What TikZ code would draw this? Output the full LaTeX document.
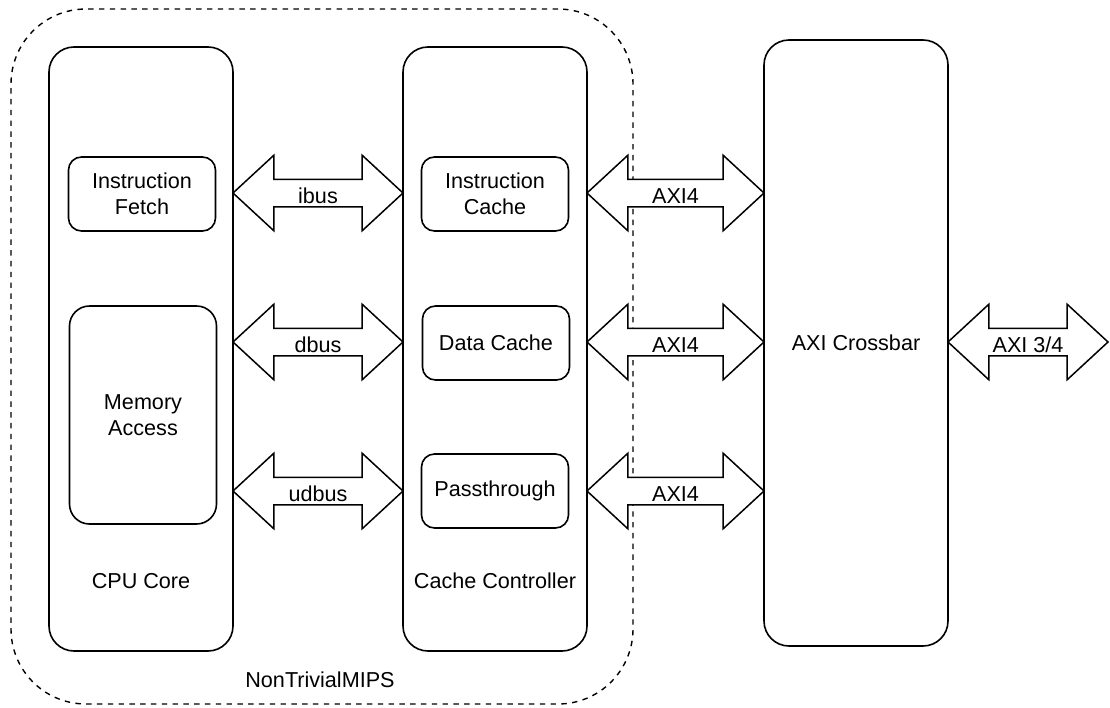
\documentclass[tikz,border=0pt]{standalone}
\usepackage{fontspec}
\setmainfont{Liberation Sans}
\usepackage{tikz}
\usetikzlibrary{shapes,positioning}
\tikzset{blk/.style={rectangle,draw,line width=1.6pt,rounded corners=25pt,minimum width=184pt,minimum height=604pt,inner sep=0pt}}
\tikzset{unit/.style={rectangle,draw,line width=1.6pt,rounded corners=13pt,minimum width=147pt,minimum height=74pt,inner sep=0pt,align=center}}
\tikzset{bus/.style={double arrow,draw,fill=white,line width=1.5pt,double arrow head extend=24pt,double arrow tip angle=85.5,minimum width=74pt,inner xsep=0pt,inner ysep=3pt,text height=20pt,text depth=0pt}}

\begin{document}
\begin{tikzpicture}[x=1pt,y=-1pt,font=\fontsize{21.6}{26}\selectfont]
        \useasboundingbox (0,0) rectangle (1110,707);
        \node[rectangle,draw,line width=1.4pt,dash pattern=on 5.4pt off 5.4pt,rounded corners=75pt,minimum width=622pt,minimum height=695pt] (mips) at (322,356.5) {};
        \node (mipslbl) at (320,680) {NonTrivialMIPS};

        \node[blk] (cpu) at (141,349) {};
        \node[unit] (ifetch) at (142,194) {Instruction\\Fetch};
        \node[unit,rounded corners=20pt,minimum height=218pt] (memacc) at (143,415) {Memory\\Access};
        \node (cpulbl) at (141,581) {CPU Core};

        \node[blk] (cachectl) at (495,349) {};
        \node[unit] (icache) at (495,194) {Instruction\\Cache};
        \node[unit] (dcache) at (496,343) {Data Cache};
        \node[unit] (passthru) at (495,491) {Passthrough};
        \node (cachelbl) at (495,581) {Cache Controller};

        \node[blk,minimum height=606pt] (xbar) at (856,343) {AXI Crossbar};

        \node[bus,minimum height=170pt] (ibus) at (318,193) {ibus};
        \node[bus,minimum height=170pt] (dbus) at (318,342) {dbus};
        \node[bus,minimum height=170pt] (udbus) at (318,491) {udbus};
        \node[bus,minimum height=177pt] (axia) at (675.5,193) {AXI4};
        \node[bus,minimum height=177pt] (axib) at (675.5,342) {AXI4};
        \node[bus,minimum height=177pt] (axic) at (675.5,491) {AXI4};
        \node[bus,minimum height=160pt] (axiext) at (1028,342) {AXI 3/4};
    \end{tikzpicture}
\end{document}
